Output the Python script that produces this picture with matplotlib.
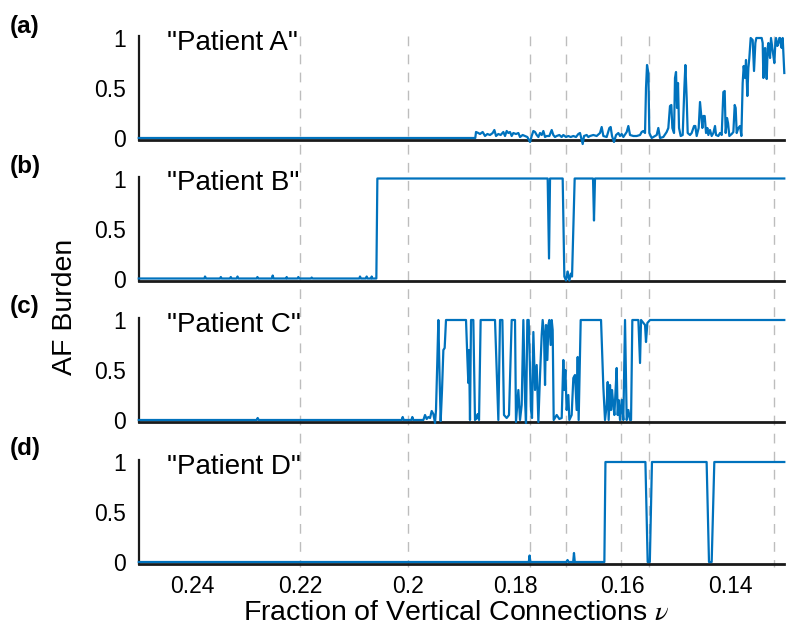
import matplotlib
matplotlib.use('Agg')
import matplotlib.pyplot as plt
from matplotlib.lines import Line2D
from matplotlib.transforms import blended_transform_factory

plt.rcParams['font.family'] = ['Liberation Sans', 'DejaVu Sans']
plt.rcParams['mathtext.fontset'] = 'stix'

# ---------------- data ----------------
panel_tags = ['(a)', '(b)', '(c)', '(d)']
patient_names = ['"Patient A"', '"Patient B"', '"Patient C"', '"Patient D"']
x_ticks = [0.24, 0.22, 0.20, 0.18, 0.16, 0.14]
x_tick_labels = ['0.24', '0.22', '0.2', '0.18', '0.16', '0.14']
y_ticks = [0, 0.5, 1]
y_tick_labels = ['0', '0.5', '1']
marker_nu = [0.22, 0.20, 0.1773, 0.1706, 0.1604, 0.1552, 0.1320]

a_nu = [0.25, 0.18745,
        0.18731, 0.18688, 0.18657, 0.18607, 0.18564, 0.18520, 0.18471, 0.18421, 0.18390, 0.18359,
        0.18316, 0.18273, 0.18223, 0.18192, 0.18161, 0.18130, 0.18099, 0.18068, 0.18037, 0.17988,
        0.17944, 0.17913, 0.17864, 0.17820, 0.17777, 0.17727, 0.17696, 0.17665, 0.17634, 0.17603,
        0.17572, 0.17541, 0.17510, 0.17479, 0.17448, 0.17417, 0.17368, 0.17324, 0.17294, 0.17263,
        0.17232, 0.17182, 0.17139, 0.17108, 0.17058, 0.17015, 0.16971, 0.16922, 0.16872, 0.16829,
        0.16798, 0.16748, 0.16723, 0.16674, 0.16643, 0.16612,
        0.16550, 0.16488, 0.16426, 0.16395, 0.16364, 0.16302, 0.16252, 0.16228, 0.16203, 0.16166,
        0.16128, 0.16085, 0.16054, 0.16023, 0.15992, 0.15930, 0.15899, 0.15868, 0.15806, 0.15744,
        0.15682, 0.15651, 0.15620, 0.15589, 0.15571, 0.15552, 0.15527, 0.15509, 0.15465, 0.15403,
        0.15372, 0.15342, 0.15310, 0.15249, 0.15187, 0.15156, 0.15125, 0.15100, 0.15081, 0.15050,
        0.15032, 0.15013, 0.14994, 0.14976, 0.14957, 0.14926, 0.14889, 0.14858, 0.14839, 0.14815,
        0.14796, 0.14753, 0.14722, 0.14678, 0.14654, 0.14629, 0.14592, 0.14567, 0.14548, 0.14523,
        0.14505, 0.14480, 0.14455, 0.14430, 0.14412, 0.14381, 0.14350, 0.14319, 0.14288, 0.14269,
        0.14226, 0.14195, 0.14164, 0.14133, 0.14108, 0.14090, 0.14065, 0.14046, 0.14022, 0.13978,
        0.13947, 0.13922, 0.13904, 0.13885, 0.13854, 0.13823, 0.13798, 0.13774, 0.13755, 0.13730,
        0.13712, 0.13687, 0.13668, 0.13650, 0.13625, 0.13588, 0.13563, 0.13538, 0.13520, 0.13420,
        0.13402, 0.13389, 0.13371, 0.13358, 0.13340, 0.13327, 0.13309, 0.13296, 0.13278, 0.13265,
        0.13247, 0.13234, 0.13210, 0.13185, 0.13166, 0.13154, 0.13129, 0.13110, 0.13092, 0.13079,
        0.13061, 0.13048, 0.13030, 0.13018, 0.13000]
a_burden = [0.0, 0.0,
            0.06, 0.05, 0.04, 0.06, 0.02, 0.04, 0.03, 0.05, 0.08, 0.02,
            0.04, 0.03, 0.06, 0.02, 0.07, 0.05, 0.06, 0.02, 0.05, 0.04,
            0.05, 0.01, 0.03, 0.02, 0.01, -0.04, 0.02, 0.07, 0.06, 0.03,
            0.01, 0.05, 0.03, 0.07, 0.01, 0.02, 0.02, 0.08, 0.03, 0.01,
            0.02, 0.03, 0.01, 0.03, 0.01, 0.02, 0.01, 0.02, 0.01, 0.04,
            0.05, -0.06, 0.02, 0.03, 0.01, 0.02,
            0.03, 0.02, 0.05, 0.11, 0.02, 0.01, 0.10, 0.11, 0.02, -0.04,
            0.03, 0.05, 0.02, 0.04, 0.01, 0.06, 0.12, 0.03, 0.02, 0.02,
            0.03, 0.06, 0.07, 0.05, 0.50, 0.73, 0.65, 0.05, 0.00, 0.02,
            0.03, 0.10, 0.00, 0.01, 0.06, 0.10, 0.32, 0.33, 0.10, 0.05,
            0.60, 0.66, 0.30, 0.55, 0.10, 0.02, 0.03, 0.50, 0.73, 0.40,
            0.05, 0.03, 0.05, 0.12, 0.12, 0.02, 0.10, 0.36, 0.25, 0.10,
            0.22, 0.22, 0.05, 0.10, 0.03, 0.08, 0.02, 0.05, 0.12, 0.03,
            0.02, 0.05, 0.03, 0.46, 0.47, 0.05, 0.20, 0.15, 0.02, 0.04,
            0.06, 0.33, 0.30, 0.05, 0.10, 0.12, 0.02, 0.55, 0.72, 0.60,
            0.78, 0.42, 0.70, 0.80, 1.00, 0.98, 0.67, 0.95, 1.00, 1.00,
            0.95, 0.60, 0.75, 0.90, 0.70, 0.59, 0.90, 0.95, 0.85, 0.80,
            1.00, 0.95, 0.85, 0.75, 0.95, 1.00, 0.92, 0.95, 1.00, 1.00,
            0.92, 0.90, 1.00, 0.85, 0.65]

b_nu = [0.25, 0.23780, 0.23769, 0.23750, 0.23490, 0.23475, 0.23460, 0.23305, 0.23290, 0.23275,
        0.23181, 0.23165, 0.23150, 0.22809, 0.22795, 0.22780, 0.22525, 0.22511, 0.22495, 0.22260,
        0.22251, 0.22240, 0.22050, 0.22034, 0.22020, 0.21800, 0.21786, 0.21770, 0.20900, 0.20888,
        0.20870, 0.20780, 0.20764, 0.20750, 0.20680, 0.20671, 0.20660, 0.20584, 0.20565,
        0.17399, 0.17374, 0.17355, 0.17120, 0.17089, 0.17058, 0.17027, 0.16996, 0.16965, 0.16946,
        0.16897, 0.16556, 0.16538, 0.16519, 0.13000]
b_burden = [0.0, 0.0, 0.02, 0.0, 0.0, 0.015, 0.0, 0.0, 0.015, 0.0,
            0.0, 0.02, 0.0, 0.0, 0.015, 0.0, 0.0, 0.03, 0.0, 0.0,
            0.015, 0.0, 0.0, 0.015, 0.0, 0.0, 0.01, 0.0, 0.0, 0.02,
            0.0, 0.0, 0.02, 0.0, 0.0, 0.02, 0.0, 0.0, 1.0,
            1.0, 0.2, 1.0, 1.0, 0.02, -0.02, 0.07, -0.02, 0.05, 0.02,
            1.0, 1.0, 0.58, 1.0, 1.0]

c_nu = [0.25, 0.22810, 0.22790, 0.22770, 0.20113, 0.20094, 0.20076, 0.19933, 0.19915, 0.19896,
        0.19710, 0.19679, 0.19648, 0.19617, 0.19586, 0.19555, 0.19524, 0.19493, 0.19475, 0.19450,
        0.19431, 0.19407, 0.19388, 0.19363, 0.19338, 0.19314, 0.19289, 0.18917, 0.18892, 0.18874,
        0.18861, 0.18843, 0.18824, 0.18781, 0.18750, 0.18719, 0.18700, 0.18675, 0.18645, 0.18378,
        0.18347, 0.18316, 0.18285, 0.18241, 0.18211, 0.18161, 0.18118, 0.18068,
        0.18006, 0.17988, 0.17944, 0.17913, 0.17882, 0.17851, 0.17820, 0.17802, 0.17777, 0.17752,
        0.17727, 0.17709, 0.17690, 0.17665, 0.17634, 0.17603, 0.17572, 0.17541, 0.17510, 0.17492,
        0.17467, 0.17448, 0.17430, 0.17405, 0.17386, 0.17368, 0.17343, 0.17324, 0.17306, 0.17287,
        0.17231, 0.17182, 0.17138, 0.17108, 0.17089, 0.17070, 0.17046, 0.17015, 0.16996, 0.16953,
        0.16922, 0.16891, 0.16860, 0.16841, 0.16823, 0.16785, 0.16407, 0.16364, 0.16333, 0.16302,
        0.16283, 0.16265, 0.16240, 0.16221, 0.16203, 0.16178, 0.16159, 0.16141, 0.16116, 0.16097,
        0.16079, 0.16054, 0.16023, 0.15992, 0.15961, 0.15930, 0.15899, 0.15868, 0.15849, 0.15825,
        0.15713, 0.15682, 0.15663, 0.15589, 0.15571, 0.15546, 0.15496, 0.13000]
c_burden = [0.0, 0.0, 0.02, 0.0, 0.0, 0.03, 0.0, 0.0, 0.03, 0.0,
            0.0, 0.05, 0.01, 0.03, 0.02, 0.09, 0.06, -0.03, 0.10, 0.60,
            1.0, 0.40, -0.01, 0.30, 0.70, 0.72, 1.0, 1.0, 0.62, 0.37,
            0.70, 0.0, 1.0, 1.0, 0.0, 0.02, 0.06, 0.0, 1.0, 1.0,
            0.50, 0.0, 1.0, 1.0, 0.05, 0.02, 0.05, 1.0,
            1.0, -0.02, 0.30, 0.0, 0.15, 1.0, 0.20, -0.03, 1.0, 1.0,
            0.50, 0.10, 0.02, 0.88, 0.30, 0.55, -0.02, 0.45, 0.85, 1.0,
            0.85, 0.35, 0.95, 0.60, 0.95, 1.0, 0.75, 1.0, 0.90, 0.0,
            0.05, 0.01, 0.02, 0.60, 0.30, 0.50, 0.10, 0.25, 0.0, 0.05,
            0.42, 0.45, 0.10, 0.63, 0.0, 1.0, 1.0, 0.33, 0.0, 0.15,
            0.38, 0.0, 0.35, 0.10, 0.30, 0.15, 0.05, 0.25, 0.52, 0.05,
            0.20, 0.0, 0.20, 0.0, 1.0, 0.0, 0.10, 0.0, 0.0, 1.0,
            1.0, 0.57, 1.0, 0.95, 0.78, 0.97, 1.0, 1.0]

d_nu = [0.25, 0.17750, 0.17735, 0.17720, 0.17050, 0.17030, 0.17010, 0.16925, 0.16910, 0.16895,
        0.16345, 0.16325, 0.15582, 0.15540, 0.15500, 0.15460, 0.14444, 0.14400, 0.14350, 0.14301,
        0.13000]
d_burden = [0.0, 0.0, 0.065, 0.0, 0.0, 0.02, 0.0, 0.0, 0.09, 0.0,
            0.0, 1.0, 1.0, 0.0, 0.0, 1.0, 1.0, 0.0, 0.0, 1.0,
            1.0]

series_nu = [a_nu, b_nu, c_nu, d_nu]
series_burden = [a_burden, b_burden, c_burden, d_burden]

# ---------------- layout ----------------
W, H = 800, 638
fig = plt.figure(figsize=(W / 100, H / 100), dpi=100)
left = 138.8 / W
width = 645.5 / W
height = 104 / H
bottoms_px = [140, 280.5, 422, 564]
tag_y_px = [26, 166, 307, 448]
line_color = '#0072BD'

axes = []
for i in range(4):
    ax = fig.add_axes([left, 1 - bottoms_px[i] / H, width, height])
    ax.plot(series_nu[i], series_burden[i], color=line_color, lw=1.6,
            clip_on=False, zorder=3)
    ax.set_xlim(0.25, 0.13)
    ax.set_ylim(-0.02, 1.02)
    ax.set_yticks(y_ticks)
    ax.set_yticklabels(y_tick_labels)
    ax.set_xticks(x_ticks)
    if i == 3:
        ax.set_xticklabels(x_tick_labels)
    else:
        ax.set_xticklabels([])
    ax.tick_params(axis='both', length=0, labelsize=16.5, colors='black')
    ax.tick_params(axis='y', pad=9)
    ax.tick_params(axis='x', pad=8)
    for s in ['top', 'right']:
        ax.spines[s].set_visible(False)
    ax.spines['left'].set_linewidth(1.6)
    ax.spines['bottom'].set_linewidth(2.0)
    ax.spines['left'].set_color('#1a1a1a')
    ax.spines['bottom'].set_color('#1a1a1a')
    ax.patch.set_alpha(0)
    ax.text(0.0437, 0.935, patient_names[i], transform=ax.transAxes,
            fontsize=20, ha='left', va='center', color='black', zorder=5)
    fig.text(10 / W, 1 - tag_y_px[i] / H, panel_tags[i], fontsize=17.5,
             fontweight='bold', ha='left', va='center')
    axes.append(ax)

# dashed reference lines spanning all panels
trans = blended_transform_factory(axes[3].transData, fig.transFigure)
for nu in marker_nu:
    ln = Line2D([nu, nu], [1 - 36 / H, 1 - 567 / H], transform=trans,
                color='#BDBDBD', lw=1.0, linestyle=(0, (7, 6)), zorder=0)
    fig.add_artist(ln)

fig.text(456 / W, 1 - 613 / H, r'Fraction of Vertical Connections $\nu$',
         fontsize=20.5, ha='center', va='center')
fig.text(65 / W, 1 - 307 / H, 'AF Burden', fontsize=20.5, rotation=90,
         ha='center', va='center')

fig.savefig('out.png', dpi=100)
